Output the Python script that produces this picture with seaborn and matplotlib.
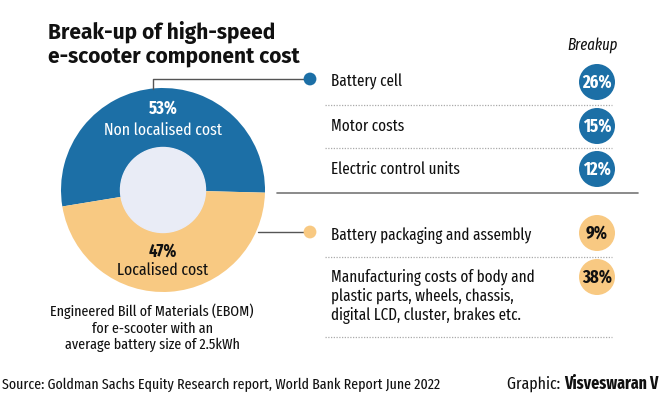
import seaborn as sns
import pandas as pd
import matplotlib.pyplot as plt

# data
segments = ["Non localised cost", "Localised cost"]
seg_share = [53, 47]
items = ["Battery cell", "Motor costs", "Electric control units",
         "Battery packaging and assembly",
         "Manufacturing costs of body and\nplastic parts, wheels, chassis,\ndigital LCD, cluster, brakes etc."]
item_share = [26, 15, 12, 9, 38]
item_group = ["Non localised", "Non localised", "Non localised", "Localised", "Localised"]

BLUE = "#1c6fa6"
ORANGE = "#f8c982"
HOLE = "#e9ecf6"
GREY = "#555555"
INK = "#111111"
pal = {"Non localised": BLUE, "Localised": ORANGE}

sns.set_theme(style="white")
plt.rcParams['font.family'] = ['Fira Sans Extra Condensed', 'DejaVu Sans']
TITLE_FONT = ['Fira Sans', 'DejaVu Sans']

W, H = 660, 395
fig = plt.figure(figsize=(6.6, 3.95), dpi=100)
ax = fig.add_axes([0, 0, 1, 1])

def Y(y):
    return H - y

# donut
cx, cy, r = 163, 190, 102
ax.pie(seg_share, colors=[BLUE, ORANGE], startangle=-1.5, counterclock=True,
       center=(cx, Y(cy)), radius=r, wedgeprops=dict(width=r - 42, linewidth=0))
ax.add_patch(plt.Circle((cx, Y(cy)), 42.5, color=HOLE, zorder=3))
ax.set_xlim(0, W)
ax.set_ylim(0, H)
ax.set_aspect("equal")
ax.axis("off")

ax.text(cx, Y(108), f"{seg_share[0]}%", color="white", fontsize=12.8, fontweight="bold",
        ha="center", va="center")
ax.text(cx, Y(130), segments[0], color="white", fontsize=12.4, ha="center", va="center")
ax.text(cx, Y(251), f"{seg_share[1]}%", color=INK, fontsize=12.8, fontweight="bold",
        ha="center", va="center")
ax.text(cx, Y(270), segments[1], color=INK, fontsize=12.4, ha="center", va="center")

# title
ax.text(48, Y(33), "Break-up of high-speed", fontsize=15.1, fontweight="bold",
        family=TITLE_FONT, color=INK, va="center")
ax.text(48, Y(57), "e-scooter component cost", fontsize=15.1, fontweight="bold",
        family=TITLE_FONT, color=INK, va="center")

# leader lines
ax.plot([153, 153, 310], [Y(89), Y(79), Y(79)], color=GREY, lw=1)
ax.plot([258, 310], [Y(232), Y(232)], color=GREY, lw=1)
ax.plot([277, 638], [Y(193), Y(193)], color="#777777", lw=1.2)
dots = pd.DataFrame({"x": [310, 310], "y": [Y(79), Y(232)], "g": ["Non localised", "Localised"]})
sns.scatterplot(data=dots, x="x", y="y", hue="g", palette=pal,
                s=85, linewidth=0, legend=False, ax=ax, zorder=5)

# breakdown rows
row_y = [82, 126, 169, 235, 278]
for name, y in zip(items, row_y):
    if "\n" in name:
        ax.text(331, Y(y) + 9.5, name, fontsize=11.8, color=INK, va="top", linespacing=1.2)
    else:
        ax.text(331, Y(y), name, fontsize=11.8, color=INK, va="center")

for y in [105, 148, 257, 337]:
    ax.plot([325, 612], [Y(y), Y(y)], color="#aaaaaa", lw=0.9, ls=(0, (1, 1.2)))

badge_y = [82, 126, 169, 233, 277]
badges = pd.DataFrame({"x": [597] * 5, "y": [Y(v) for v in badge_y], "g": item_group})
sns.scatterplot(data=badges, x="x", y="y", hue="g", palette=pal,
                s=672, linewidth=0, legend=False, ax=ax, zorder=5)
for v, y, g in zip(item_share, badge_y, item_group):
    ax.text(597, Y(y), f"{v}%", fontsize=13, fontweight="bold", ha="center", va="center",
            color="white" if g == "Non localised" else INK, zorder=6)

ax.text(593, Y(45), "Breakup", fontsize=11.5, style="italic", ha="center", va="center", color=INK)

# notes
ax.text(152, Y(328), "Engineered Bill of Materials (EBOM)\nfor e-scooter with an\naverage battery size of 2.5kWh",
        fontsize=11, ha="center", va="center", linespacing=1.2, color=INK)
ax.text(2, Y(385), "Source: Goldman Sachs Equity Research report, World Bank Report June 2022",
        fontsize=10.9, va="center", color=INK)
t = ax.text(507, Y(384), "Graphic: ", fontsize=12.4, va="center", color=INK)
ax.annotate("Visveswaran V", xycoords=t, xy=(1, 0.5), va="center", fontsize=12.4,
            fontweight="bold", color=INK)

fig.savefig("out.png", dpi=100, facecolor="white")
